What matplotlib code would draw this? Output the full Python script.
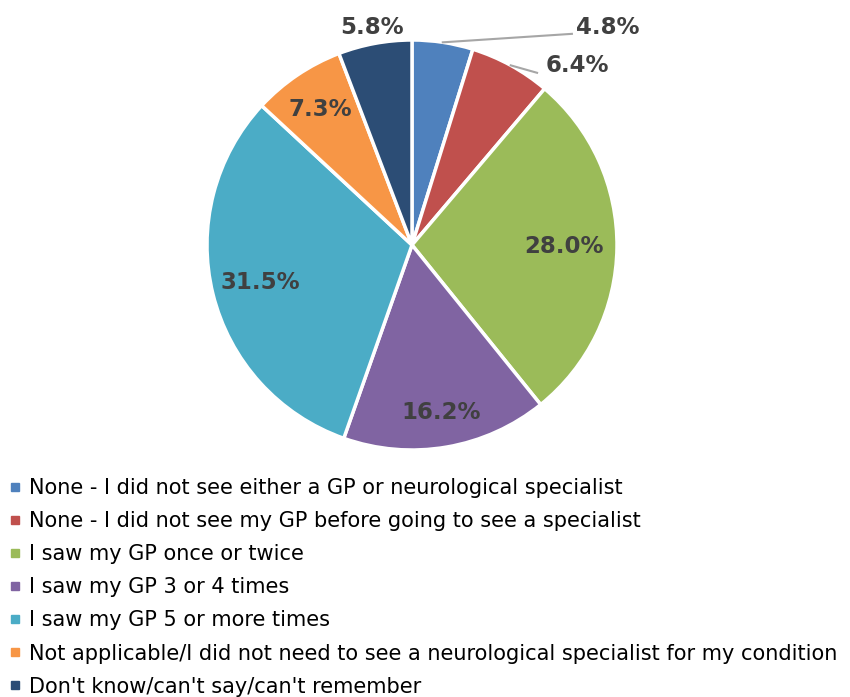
import numpy as np
import matplotlib.pyplot as plt
from matplotlib.lines import Line2D

categories = [
    "None - I did not see either a GP or neurological specialist",
    "None - I did not see my GP before going to see a specialist",
    "I saw my GP once or twice",
    "I saw my GP 3 or 4 times",
    "I saw my GP 5 or more times",
    "Not applicable/I did not need to see a neurological specialist for my condition",
    "Don't know/can't say/can't remember",
]
values = [4.8, 6.4, 28.0, 16.2, 31.5, 7.3, 5.8]
colors = ["#4F81BD", "#C0504D", "#9BBB59", "#8064A2", "#4BACC6", "#F79646", "#2C4D75"]

# label radius for each slice (inside ones), None = outside with leader
label_r = [None, None, 0.74, 0.83, 0.76, 0.80, 1.08]

fig = plt.figure(figsize=(8.5, 6.97), dpi=100)
W, H = 850, 697
cx, cy, R = 412, 245, 205
ax = fig.add_axes([(cx - R) / W, (H - cy - R) / H, 2 * R / W, 2 * R / H])

wedges, _ = ax.pie(values, colors=colors, startangle=90, counterclock=False,
                   wedgeprops=dict(edgecolor="white", linewidth=2.5))
ax.set_xlim(-1, 1)
ax.set_ylim(-1, 1)
ax.set_aspect("equal")
ax.axis("off")

txt = dict(fontsize=16.5, fontweight="bold", color="#404040")
for w, v, r in zip(wedges, values, label_r):
    if r is None:
        continue
    a = np.deg2rad((w.theta1 + w.theta2) / 2)
    ax.text(r * np.cos(a), r * np.sin(a), f"{v:.1f}%", ha="center", va="center", **txt)

# outside labels for the two small slices
outside = [(0, (0.78, 1.03), (0.80, 1.06)), (1, (0.61, 0.84), (0.65, 0.875))]
for i, end, tpos in outside:
    w = wedges[i]
    a = np.deg2rad((w.theta1 + w.theta2) / 2)
    start = (np.cos(a), np.sin(a))
    ax.plot([start[0], end[0]], [start[1], end[1]], color="#A6A6A6", lw=1.5, clip_on=False)
    ax.text(tpos[0], tpos[1], f"{values[i]:.1f}%", ha="left", va="center", **txt)

handles = [Line2D([], [], marker="s", ls="none", color=c, markersize=6) for c in colors]
fig.legend(handles, categories, loc="upper left", bbox_to_anchor=(9 / W, 1 - 478 / H),
           frameon=False, fontsize=15, handlelength=0.6, handletextpad=0.35,
           labelspacing=0.63, borderaxespad=0, borderpad=0, labelcolor="black")

fig.savefig("out.png", dpi=100)
